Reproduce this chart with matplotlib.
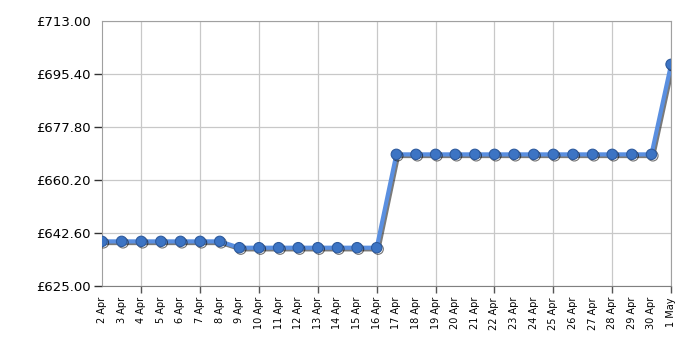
import matplotlib
matplotlib.use("Agg")
import matplotlib.pyplot as plt
import matplotlib.patheffects as pe
from matplotlib.ticker import FixedLocator

# Daily price, 2 Apr - 1 May
days = [f"{d} Apr" for d in range(2, 31)] + ["1 May"]
prices = ([639.8] * 7) + ([637.7] * 8) + ([668.7] * 14) + [698.6]
y_ticks = [625.00, 642.60, 660.20, 677.80, 695.40, 713.00]

fig = plt.figure(figsize=(7.0, 3.5), dpi=100)
ax = fig.add_axes([0.1457, 0.183, 0.813, 0.757])

x = list(range(len(days)))
ax.plot(x, prices, color="#5a8fe0", lw=3, zorder=3,
        path_effects=[pe.SimpleLineShadow(offset=(1.2, -1.2), shadow_color="#222222", alpha=0.6),
                      pe.Normal()])
ax.plot(x, prices, ls="none", marker="o", ms=7.5, mfc="#3c74c4", mec="#2d5a9e",
        mew=0.8, zorder=4,
        path_effects=[pe.SimpleLineShadow(offset=(1.0, -1.0), shadow_color="#000000", alpha=0.55),
                      pe.Normal()])

ax.set_xlim(0, len(days) - 1)
ax.set_ylim(y_ticks[0], y_ticks[-1])

ax.set_yticks(y_ticks)
ax.set_yticklabels([f"£{v:.2f}" for v in y_ticks], fontsize=9.5, fontfamily="DejaVu Sans")

# every day labelled, tick marks and grid only every third day
ax.xaxis.remove_overlapping_locs = False
ax.set_xticks(x)
ax.set_xticklabels(days, rotation=90, fontsize=7, fontfamily="DejaVu Sans")
ax.xaxis.set_minor_locator(FixedLocator([i for i in x if (i - 2) % 3 == 0]))
ax.tick_params(axis="x", which="major", length=0, pad=8)
ax.tick_params(axis="x", which="minor", length=5, color="#555555", width=1)
ax.tick_params(axis="y", length=6, color="#333333", width=1, pad=2)
# no tick mark on the top value
ax.yaxis.get_major_ticks()[-1].tick1line.set_visible(False)

ax.grid(True, axis="y", which="major", color="#c8c8c8", lw=0.9)
ax.grid(True, axis="x", which="minor", color="#c8c8c8", lw=0.9)
ax.set_axisbelow(True)
for s in ["top", "right", "left"]:
    ax.spines[s].set_color("#a0a0a0")
ax.spines["bottom"].set_color("#808080")

fig.savefig("out.png", dpi=100)
